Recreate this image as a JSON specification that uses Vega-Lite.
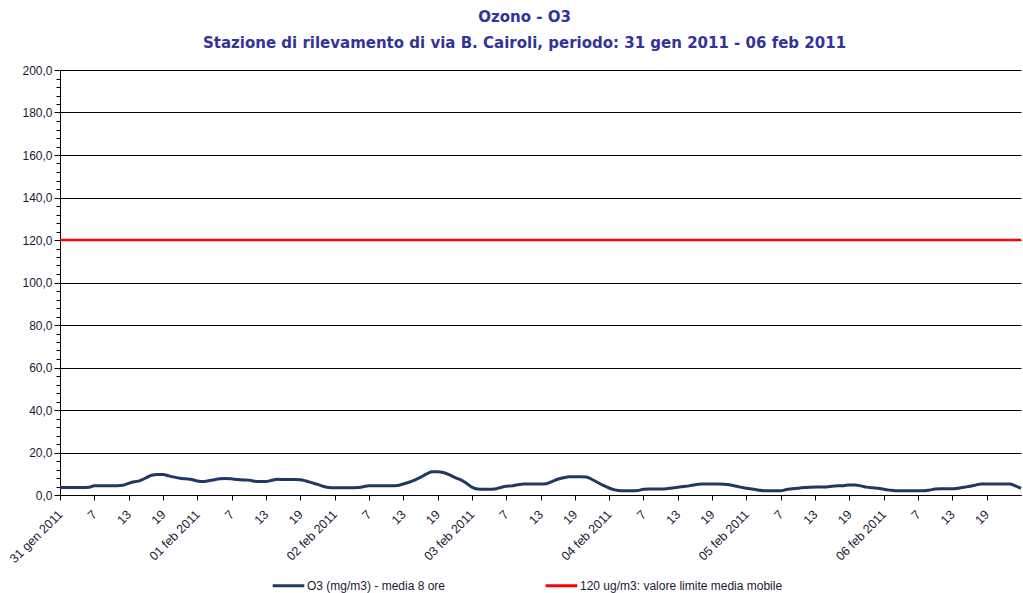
{
  "$schema": "https://vega.github.io/schema/vega-lite/v6.json",
  "width": 961,
  "height": 425,
  "autosize": {"type": "none"},
  "padding": {"left": 60, "top": 70, "right": 2, "bottom": 98},
  "background": "white",
  "title": {
    "text": ["Ozono - O3", "Stazione di rilevamento di via B. Cairoli, periodo: 31 gen 2011 - 06 feb 2011"],
    "font": "DejaVu Sans",
    "fontSize": 15,
    "fontWeight": "bold",
    "color": "#333399",
    "lineHeight": 26,
    "anchor": "middle",
    "dx": -16,
    "offset": 13
  },
  "config": {
    "view": {"stroke": null},
    "axis": {"labelFont": "Liberation Sans", "labelColor": "#1a1a33", "domainColor": "#000", "tickColor": "#000", "title": null}
  },
  "data": {
    "values": [
      {"h":1,"v":3.5},{"h":2,"v":3.5},{"h":3,"v":3.5},{"h":4,"v":3.5},{"h":5,"v":3.5},{"h":6,"v":3.6},{"h":7,"v":4.4},{"h":8,"v":4.4},{"h":9,"v":4.4},{"h":10,"v":4.4},
      {"h":11,"v":4.4},{"h":12,"v":4.6},{"h":13,"v":5.5},{"h":14,"v":6.2},{"h":15,"v":6.8},{"h":16,"v":8.0},{"h":17,"v":9.3},{"h":18,"v":9.7},{"h":19,"v":9.7},{"h":20,"v":9.0},
      {"h":21,"v":8.4},{"h":22,"v":7.9},{"h":23,"v":7.6},{"h":24,"v":7.3},{"h":25,"v":6.6},{"h":26,"v":6.3},{"h":27,"v":6.7},{"h":28,"v":7.2},{"h":29,"v":7.6},{"h":30,"v":7.8},
      {"h":31,"v":7.6},{"h":32,"v":7.3},{"h":33,"v":7.1},{"h":34,"v":7.0},{"h":35,"v":6.5},{"h":36,"v":6.3},{"h":37,"v":6.3},{"h":38,"v":6.9},{"h":39,"v":7.4},{"h":40,"v":7.3},
      {"h":41,"v":7.3},{"h":42,"v":7.3},{"h":43,"v":7.2},{"h":44,"v":6.6},{"h":45,"v":5.8},{"h":46,"v":5.0},{"h":47,"v":4.1},{"h":48,"v":3.5},{"h":49,"v":3.4},{"h":50,"v":3.4},
      {"h":51,"v":3.4},{"h":52,"v":3.4},{"h":53,"v":3.5},{"h":54,"v":3.9},{"h":55,"v":4.4},{"h":56,"v":4.4},{"h":57,"v":4.4},{"h":58,"v":4.4},{"h":59,"v":4.4},{"h":60,"v":4.5},
      {"h":61,"v":5.2},{"h":62,"v":6.0},{"h":63,"v":7.0},{"h":64,"v":8.3},{"h":65,"v":9.8},{"h":66,"v":10.9},{"h":67,"v":11.0},{"h":68,"v":10.6},{"h":69,"v":9.6},{"h":70,"v":8.3},
      {"h":71,"v":7.2},{"h":72,"v":5.6},{"h":73,"v":3.7},{"h":74,"v":2.8},{"h":75,"v":2.7},{"h":76,"v":2.7},{"h":77,"v":2.8},{"h":78,"v":3.5},{"h":79,"v":4.1},{"h":80,"v":4.3},
      {"h":81,"v":4.8},{"h":82,"v":5.2},{"h":83,"v":5.2},{"h":84,"v":5.2},{"h":85,"v":5.2},{"h":86,"v":5.3},{"h":87,"v":6.3},{"h":88,"v":7.4},{"h":89,"v":8.1},{"h":90,"v":8.6},
      {"h":91,"v":8.6},{"h":92,"v":8.6},{"h":93,"v":8.5},{"h":94,"v":7.3},{"h":95,"v":5.9},{"h":96,"v":4.5},{"h":97,"v":3.3},{"h":98,"v":2.4},{"h":99,"v":2.0},{"h":100,"v":2.0},
      {"h":101,"v":2.0},{"h":102,"v":2.1},{"h":103,"v":2.7},{"h":104,"v":2.8},{"h":105,"v":2.8},{"h":106,"v":2.8},{"h":107,"v":2.9},{"h":108,"v":3.3},{"h":109,"v":3.7},{"h":110,"v":4.0},
      {"h":111,"v":4.3},{"h":112,"v":4.8},{"h":113,"v":5.2},{"h":114,"v":5.2},{"h":115,"v":5.2},{"h":116,"v":5.2},{"h":117,"v":5.1},{"h":118,"v":4.8},{"h":119,"v":4.2},{"h":120,"v":3.7},
      {"h":121,"v":3.2},{"h":122,"v":2.8},{"h":123,"v":2.4},{"h":124,"v":2.0},{"h":125,"v":2.0},{"h":126,"v":2.0},{"h":127,"v":2.0},{"h":128,"v":2.6},{"h":129,"v":2.9},{"h":130,"v":3.2},
      {"h":131,"v":3.5},{"h":132,"v":3.6},{"h":133,"v":3.8},{"h":134,"v":3.8},{"h":135,"v":3.8},{"h":136,"v":4.1},{"h":137,"v":4.3},{"h":138,"v":4.4},{"h":139,"v":4.7},{"h":140,"v":4.7},
      {"h":141,"v":4.3},{"h":142,"v":3.7},{"h":143,"v":3.4},{"h":144,"v":3.2},{"h":145,"v":2.7},{"h":146,"v":2.3},{"h":147,"v":2.0},{"h":148,"v":2.0},{"h":149,"v":2.0},{"h":150,"v":2.0},
      {"h":151,"v":2.0},{"h":152,"v":2.0},{"h":153,"v":2.3},{"h":154,"v":2.8},{"h":155,"v":2.9},{"h":156,"v":2.9},{"h":157,"v":2.9},{"h":158,"v":3.2},{"h":159,"v":3.6},{"h":160,"v":4.1},
      {"h":161,"v":4.6},{"h":162,"v":5.2},{"h":163,"v":5.2},{"h":164,"v":5.2},{"h":165,"v":5.2},{"h":166,"v":5.2},{"h":167,"v":5.2},{"h":168,"v":4.3},{"h":169,"v":3.1}
    ]
  },
  "layer": [
    {
      "mark": {"type": "line", "strokeWidth": 3, "interpolate": "monotone"},
      "encoding": {
        "x": {
          "field": "h", "type": "quantitative",
          "scale": {"domain": [1, 169], "nice": false, "zero": false},
          "axis": {
            "values": [1,7,13,19,25,31,37,43,49,55,61,67,73,79,85,91,97,103,109,115,121,127,133,139,145,151,157,163],
            "tickCount": 100,
            "labelExpr": "(datum.value - 1) % 24 == 0 ? ['31 gen 2011','01 feb 2011','02 feb 2011','03 feb 2011','04 feb 2011','05 feb 2011','06 feb 2011'][floor((datum.value - 1) / 24)] : '' + ((datum.value - 1) % 24 + 1)",
            "labelAngle": -45,
            "labelAlign": "right",
            "labelBaseline": "middle",
            "labelFontSize": 12.5,
            "labelPadding": 12,
            "tickSize": 5,
            "grid": false,
            "labelOverlap": false,
            "labelFlush": false
          }
        },
        "y": {
          "field": "v", "type": "quantitative",
          "scale": {"domain": [0, 200], "nice": false},
          "axis": {
            "values": [0,4,8,12,16,20,24,28,32,36,40,44,48,52,56,60,64,68,72,76,80,84,88,92,96,100,104,108,112,116,120,124,128,132,136,140,144,148,152,156,160,164,168,172,176,180,184,188,192,196,200],
            "tickCount": 100,
            "labelExpr": "datum.value % 20 == 0 ? replace(format(datum.value, '.1f'), '.', ',') : ''",
            "labelFontSize": 12,
            "labelPadding": 2,
            "tickSize": {"condition": {"test": "datum.value % 20 == 0", "value": 6}, "value": 4},
            "grid": true,
            "gridColor": "#000",
            "gridWidth": 1,
            "gridOpacity": {"condition": {"test": "datum.value % 20 == 0", "value": 1}, "value": 0},
            "labelOverlap": false
          }
        },
        "color": {
          "datum": "O3 (mg/m3) - media 8 ore",
          "type": "nominal",
          "scale": {
            "domain": ["O3 (mg/m3) - media 8 ore", "120 ug/m3: valore limite media mobile"],
            "range": ["#1F3864", "#FF0000"]
          },
          "legend": {
            "title": null,
            "orient": "none",
            "direction": "horizontal",
            "legendX": 211,
            "legendY": 498,
            "symbolType": "stroke",
            "symbolSize": 1000,
            "symbolStrokeWidth": 3,
            "labelFont": "Liberation Sans",
            "labelFontSize": 12,
            "labelColor": "#1a1a33",
            "labelLimit": 400,
            "labelOffset": 1,
            "columnPadding": 93
          }
        }
      }
    },
    {
      "data": {"values": [{"limite": 120}]},
      "mark": {"type": "rule", "strokeWidth": 2.5},
      "encoding": {
        "y": {"field": "limite", "type": "quantitative"},
        "color": {
          "datum": "120 ug/m3: valore limite media mobile",
          "type": "nominal",
          "legend": {
            "title": null,
            "orient": "none",
            "direction": "horizontal",
            "legendX": 211,
            "legendY": 498,
            "symbolType": "stroke",
            "symbolSize": 1000,
            "symbolStrokeWidth": 3,
            "labelFont": "Liberation Sans",
            "labelFontSize": 12,
            "labelColor": "#1a1a33",
            "labelLimit": 400,
            "labelOffset": 1,
            "columnPadding": 93
          }
        }
      }
    }
  ]
}
